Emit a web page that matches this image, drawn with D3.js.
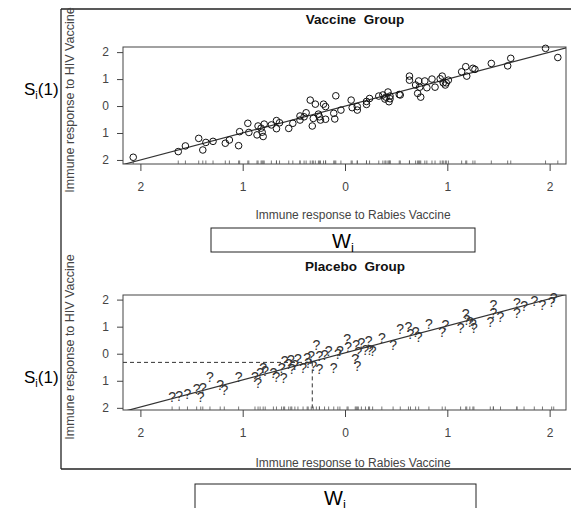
<!DOCTYPE html>
<html><head><meta charset="utf-8">
<script src="https://cdn.jsdelivr.net/npm/d3@7"></script>
<style>
html,body{margin:0;padding:0;background:#fff;}
svg{display:block;font-family:"Liberation Sans",Arial,sans-serif;}
</style></head>
<body>
<svg id="chart" width="571" height="508"></svg>
<script>
// ---------- data ----------
const tickValues = [-2, -1, 0, 1, 2];
const tickLabels = ["2", "1", "0", "1", "2"];
const panelTitles = ["Vaccine  Group", "Placebo  Group"];
const xTitle = "Immune response to Rabies Vaccine";
const yTitle = "Immune response to HIV Vaccine";

const vaccineX = [-2.07,-1.63,-1.56,-1.43,-1.39,-1.36,-1.29,-1.17,-1.13,-1.04,-1.03,-0.95,-0.94,-0.86,-0.85,-0.81,-0.80,-0.82,-0.79,-0.72,-0.67,-0.67,-0.64,-0.55,-0.51,-0.44,-0.44,-0.38,-0.40,-0.34,-0.29,-0.32,-0.31,-0.26,-0.24,-0.21,-0.19,-0.25,-0.19,-0.11,-0.10,-0.09,-0.04,0.06,0.07,0.12,0.12,0.21,0.21,0.24,0.33,0.37,0.39,0.40,0.42,0.43,0.44,0.44,0.53,0.54,0.63,0.63,0.69,0.71,0.72,0.73,0.74,0.78,0.80,0.85,0.88,0.93,0.95,0.96,0.98,0.99,1.01,1.14,1.18,1.19,1.25,1.27,1.43,1.59,1.62,1.96,2.08];
const vaccineY = [-1.90,-1.69,-1.48,-1.20,-1.63,-1.35,-1.31,-1.38,-1.26,-1.47,-0.95,-0.64,-0.98,-1.07,-0.74,-0.97,-1.13,-0.82,-0.67,-0.70,-0.54,-0.84,-0.62,-0.83,-0.64,-0.37,-0.52,-0.25,-0.40,0.22,0.07,-0.74,-0.46,-0.30,-0.52,0.07,-0.02,-0.40,-0.49,-0.27,-0.48,0.38,-0.15,0.22,-0.06,-0.15,-0.02,0.06,0.17,0.28,0.37,0.41,0.26,0.33,0.52,0.16,0.37,0.27,0.43,0.41,1.11,0.96,0.78,0.47,0.93,0.70,0.33,0.93,0.68,1.00,0.70,1.01,1.11,0.86,0.78,0.86,0.96,1.27,1.46,1.11,1.40,1.36,1.58,1.49,1.77,2.14,1.80];

const placeboX = [-1.69,-1.62,-1.54,-1.45,-1.39,-1.41,-1.32,-1.22,-1.18,-1.04,-0.88,-0.85,-0.83,-0.80,-0.78,-0.70,-0.67,-0.62,-0.59,-0.60,-0.55,-0.53,-0.52,-0.49,-0.46,-0.41,-0.37,-0.36,-0.33,-0.31,-0.28,-0.25,-0.25,-0.20,-0.16,-0.11,-0.07,-0.05,0.02,0.03,0.10,0.12,0.11,0.13,0.16,0.20,0.23,0.24,0.27,0.36,0.47,0.54,0.62,0.64,0.69,0.72,0.82,0.98,0.95,1.13,1.18,1.19,1.22,1.25,1.26,1.42,1.45,1.45,1.52,1.68,1.68,1.75,1.85,1.93,2.02,2.04];
const placeboY = [-1.60,-1.56,-1.50,-1.32,-1.28,-1.60,-0.86,-1.16,-1.35,-0.86,-0.86,-1.07,-0.70,-0.52,-0.63,-0.70,-0.86,-0.52,-0.25,-0.90,-0.39,-0.23,-0.58,-0.41,-0.21,-0.51,-0.15,-0.34,-0.09,-0.45,0.34,-0.09,-0.56,-0.03,0.12,-0.52,0.00,0.12,0.53,0.25,-0.21,-0.45,0.33,0.05,0.41,0.15,0.47,0.15,0.11,0.59,0.34,0.90,0.98,0.74,0.80,0.62,1.11,1.05,0.81,0.96,1.48,1.23,1.17,1.11,0.96,1.19,1.80,1.52,1.36,1.87,1.52,1.75,1.96,1.81,1.93,2.05];

const fitVaccine = [0.0, 1.0];   // intercept, slope
const fitPlacebo = [0.03, 1.0];
const highlight = [-0.32, -0.32]; // dashed guide (x, y) in placebo panel

// ---------- drawing ----------
const svg = d3.select("#chart");
const FONT = '"Liberation Sans",Arial,sans-serif';

// outer frame
svg.append("line").attr("x1",61).attr("y1",9).attr("x2",571).attr("y2",9).attr("stroke","#222").attr("stroke-width",1.3);
svg.append("line").attr("x1",61).attr("y1",9).attr("x2",61).attr("y2",469).attr("stroke","#222").attr("stroke-width",1.3);
svg.append("line").attr("x1",61).attr("y1",469).attr("x2",571).attr("y2",469).attr("stroke","#222").attr("stroke-width",1.3);

function panel(cfg){
  const {left,right,top,bottom,xd,yd,xs,ys,fit,title,titleY,xTitleY,yTitleCy,pch} = cfg;
  const x = d3.scaleLinear().domain(xd).range([left,right]);
  const y = d3.scaleLinear().domain(yd).range([bottom,top]);
  const g = svg.append("g");

  g.append("text").attr("x",355).attr("y",titleY).attr("text-anchor","middle")
    .attr("font-weight","bold").attr("font-size",13.5).style("white-space","pre").attr("fill","#111").text(title);

  g.append("rect").attr("x",left).attr("y",top).attr("width",right-left).attr("height",bottom-top)
    .attr("fill","none").attr("stroke","#444").attr("stroke-width",1);

  const xa = d3.axisBottom(x).tickValues(tickValues).tickFormat((d,i)=>tickLabels[i]).tickSize(7).tickPadding(11);
  const gx = g.append("g").attr("transform",`translate(0,${bottom})`).call(xa);
  gx.select(".domain").remove();
  gx.selectAll("line").attr("stroke","#444");
  gx.selectAll("text").attr("font-size",12).attr("font-family",FONT).attr("fill","#444");

  const ya = d3.axisLeft(y).tickValues(tickValues).tickFormat((d,i)=>tickLabels[i]).tickSize(6).tickPadding(8);
  const gy = g.append("g").attr("transform",`translate(${left},0)`).call(ya);
  gy.select(".domain").remove();
  gy.selectAll("line").attr("stroke","#444");
  gy.selectAll("text").attr("font-size",12).attr("font-family",FONT).attr("fill","#444");

  g.append("text").attr("x",353).attr("y",xTitleY).attr("text-anchor","middle")
    .attr("font-size",12).attr("fill","#444").text(xTitle);
  g.append("text").attr("transform",`translate(74,${yTitleCy}) rotate(-90)`).attr("text-anchor","middle")
    .attr("font-size",12.5).attr("fill","#444").text(yTitle);

  g.append("g").selectAll("line").data(xs).join("line")
    .attr("x1",d=>x(d)).attr("x2",d=>x(d)).attr("y1",bottom).attr("y2",bottom-3.5)
    .attr("stroke","#555").attr("stroke-width",0.8);

  const clipId = "clip"+top;
  svg.append("clipPath").attr("id",clipId).append("rect").attr("x",left).attr("y",top).attr("width",right-left).attr("height",bottom-top);
  const x0 = xd[0]-0.5, x1 = xd[1]+0.5;
  g.append("line").attr("clip-path",`url(#${clipId})`)
    .attr("x1",x(x0)).attr("y1",y(fit[0]+fit[1]*x0)).attr("x2",x(x1)).attr("y2",y(fit[0]+fit[1]*x1))
    .attr("stroke","#333").attr("stroke-width",1.2);

  const pts = xs.map((v,i)=>({x:v,y:ys[i]}));
  if(pch==="o"){
    g.append("g").selectAll("circle").data(pts).join("circle")
      .attr("cx",d=>x(d.x)).attr("cy",d=>y(d.y)).attr("r",3.3)
      .attr("fill","none").attr("stroke","#111").attr("stroke-width",1);
  } else {
    g.append("g").selectAll("text").data(pts).join("text")
      .attr("x",d=>x(d.x)).attr("y",d=>y(d.y)).attr("text-anchor","middle").attr("dy","0.36em")
      .attr("font-size",14).attr("fill","#333").text("?");
  }
  return {x,y,g};
}

const topP = panel({left:123,right:566,top:47,bottom:164,xd:[-2.17,2.16],yd:[-2.15,2.19],
  xs:vaccineX,ys:vaccineY,fit:fitVaccine,title:panelTitles[0],titleY:24,xTitleY:219,yTitleCy:100,pch:"o"});
const botP = panel({left:123,right:566,top:295,bottom:410,xd:[-2.17,2.16],yd:[-2.08,2.17],
  xs:placeboX,ys:placeboY,fit:fitPlacebo,title:panelTitles[1],titleY:271,xTitleY:467,yTitleCy:347,pch:"?"});

botP.g.append("line").attr("x1",123).attr("x2",botP.x(highlight[0]))
  .attr("y1",botP.y(highlight[1])).attr("y2",botP.y(highlight[1]))
  .attr("stroke","#333").attr("stroke-dasharray","4,3").attr("stroke-width",1);
botP.g.append("line").attr("x1",botP.x(highlight[0])).attr("x2",botP.x(highlight[0]))
  .attr("y1",botP.y(highlight[1])).attr("y2",410)
  .attr("stroke","#333").attr("stroke-dasharray","4,3").attr("stroke-width",1);

function wBox(x0,x1,y0,y1,tx,ty){
  svg.append("rect").attr("x",x0).attr("y",y0).attr("width",x1-x0).attr("height",y1-y0)
    .attr("fill","#fff").attr("stroke","#222").attr("stroke-width",1);
  const t = svg.append("text").attr("x",tx).attr("y",ty).attr("font-size",20).attr("fill","#000");
  t.append("tspan").text("W");
  t.append("tspan").attr("font-size",13).attr("dy",4).text("i");
}
wBox(211,475,228,252,332,248);
wBox(195,476,484,520,324,505);

function sLabel(x,yb){
  const t = svg.append("text").attr("x",x).attr("y",yb).attr("font-size",17).attr("fill","#000");
  t.append("tspan").text("S");
  t.append("tspan").attr("font-size",11).attr("dy",4).text("i");
  t.append("tspan").attr("dy",-4).text("(1)");
}
sLabel(24,95);
sLabel(24,383);
</script>
</body></html>
